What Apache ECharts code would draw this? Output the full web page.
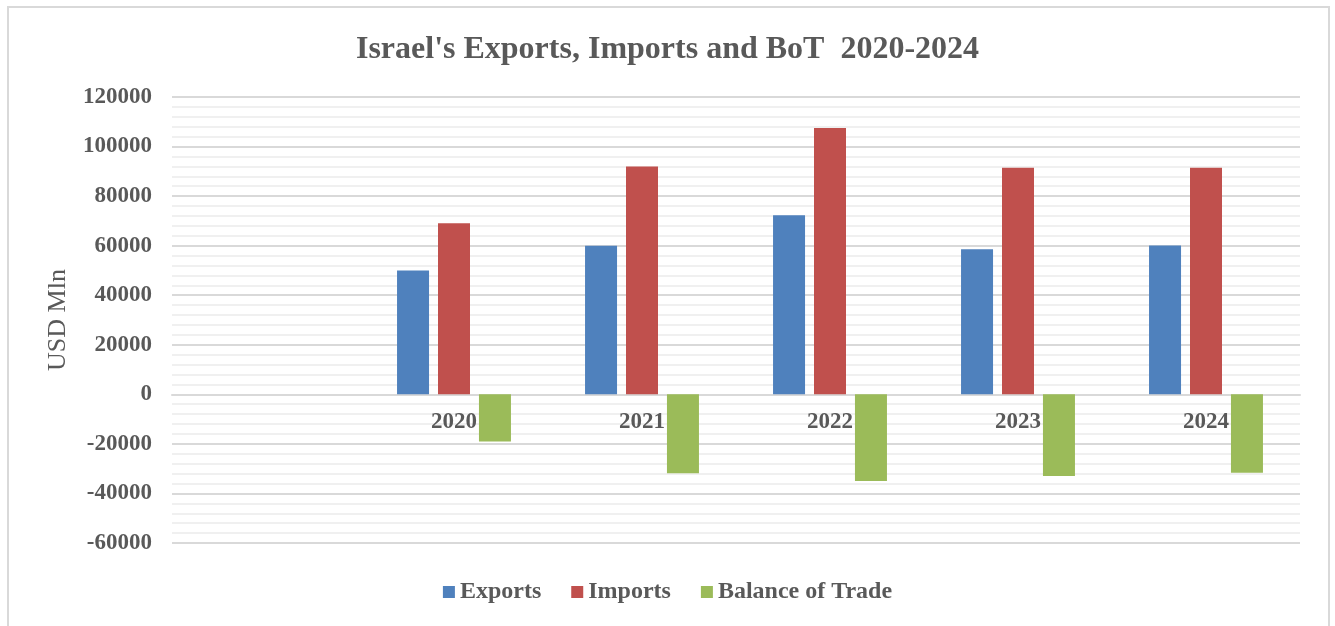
<!DOCTYPE html>
<html>
<head>
<meta charset="utf-8">
<script src="https://cdn.jsdelivr.net/npm/echarts@6/dist/echarts.min.js"></script>
<style>
  html, body, #main { width: 100%; height: 100%; margin: 0; background: #fff; }
</style>
</head>
<body>
<div id="main"></div>
<script>
// data (USD Mln)
var years = ['', '2020', '2021', '2022', '2023', '2024'];
var exportsData = [null, 50000, 60000, 72300, 58600, 60100];
var importsData = [null, 69000, 92000, 107500, 91400, 91400];
var balanceData = [null, -19000, -31900, -35000, -33000, -31600];

var FONT = '"Liberation Serif", "Times New Roman", serif';
var TEXT = '#595959';

var Y_MIN = -60000, Y_MAX = 120000;
var GRID_TOP = 97, GRID_BOTTOM = 83;
// put the category axis on the zero line
var plotH = 626 - GRID_TOP - GRID_BOTTOM;
var zeroOffset = -plotH * (0 - Y_MIN) / (Y_MAX - Y_MIN);

var chart = echarts.init(document.getElementById('main'));

chart.setOption({
    animation: false,
    backgroundColor: '#fff',
    title: {
        text: "Israel's Exports, Imports and BoT  2020-2024",
        left: 'center',
        top: 29,
        textStyle: { fontFamily: FONT, fontWeight: 'bold', fontSize: 32, color: TEXT }
    },
    graphic: [{
        type: 'rect',
        shape: { x: 8, y: 7, width: 1321, height: 640 },
        style: { fill: 'none', stroke: '#d9d9d9', lineWidth: 2 },
        silent: true
    }],
    legend: {
        bottom: 17,
        left: 'center',
        itemWidth: 12,
        itemHeight: 12,
        itemGap: 30,
        icon: 'rect',
        textStyle: { fontFamily: FONT, fontWeight: 'bold', fontSize: 24, color: TEXT },
        data: ['Exports', 'Imports', 'Balance of Trade']
    },
    grid: { left: 172, right: 35, top: GRID_TOP, bottom: GRID_BOTTOM },
    xAxis: {
        type: 'category',
        data: years,
        offset: zeroOffset,
        axisLine: { show: true, onZero: false, lineStyle: { color: '#d9d9d9', width: 2 } },
        axisTick: { show: false },
        axisLabel: { margin: 16, fontFamily: FONT, fontWeight: 'bold', fontSize: 23, color: TEXT }
    },
    yAxis: {
        type: 'value',
        min: Y_MIN,
        max: Y_MAX,
        interval: 20000,
        name: 'USD Mln',
        nameLocation: 'middle',
        nameGap: 101,
        nameTextStyle: { fontFamily: FONT, fontSize: 26, color: TEXT },
        axisLine: { show: false },
        axisTick: { show: false },
        axisLabel: {
            margin: 20,
            fontFamily: FONT, fontWeight: 'bold', fontSize: 23, color: TEXT,
            formatter: function (v) { return String(v); }
        },
        splitLine: { lineStyle: { color: '#d9d9d9', width: 2 } },
        minorTick: { show: false, splitNumber: 5 },
        minorSplitLine: { show: true, lineStyle: { color: '#f0f0f0', width: 2 } }
    },
    series: [{
        name: 'Exports',
        type: 'bar',
        data: exportsData,
        barWidth: 32,
        barGap: '28%',
        itemStyle: { color: '#4F81BD' }
    }, {
        name: 'Imports',
        type: 'bar',
        data: importsData,
        barWidth: 32,
        barGap: '28%',
        itemStyle: { color: '#C0504D' }
    }, {
        name: 'Balance of Trade',
        type: 'bar',
        data: balanceData,
        barWidth: 32,
        barGap: '28%',
        itemStyle: { color: '#9BBB59' }
    }]
});
</script>
</body>
</html>
